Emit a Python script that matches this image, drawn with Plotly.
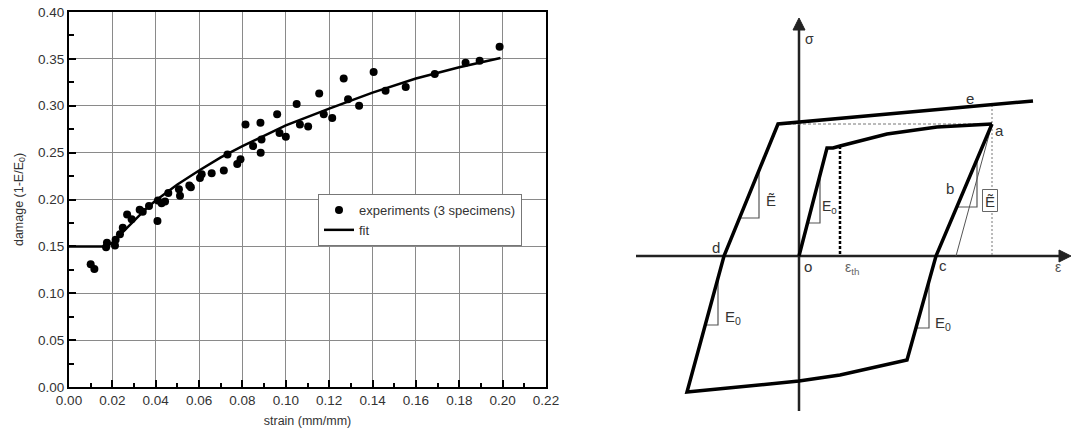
import plotly.graph_objects as go

# ---------------- left panel: damage vs strain ----------------
exp_strain = [0.0100, 0.0117, 0.0171, 0.0175, 0.0212, 0.0215, 0.0235, 0.0248,
              0.0268, 0.0289, 0.0326, 0.0340, 0.0369, 0.0408, 0.0410, 0.0427,
              0.0443, 0.0458, 0.0507, 0.0512, 0.0555, 0.0562, 0.0604, 0.0612,
              0.0658, 0.0714, 0.0731, 0.0776, 0.0791, 0.0814, 0.0849, 0.0884,
              0.0888, 0.0883, 0.0960, 0.0971, 0.1000, 0.1050, 0.1065, 0.1103,
              0.1154, 0.1175, 0.1214, 0.1267, 0.1287, 0.1338, 0.1405, 0.1460,
              0.1553, 0.1687, 0.1829, 0.1894, 0.1986]
exp_damage = [0.131, 0.126, 0.149, 0.154, 0.151, 0.157, 0.163, 0.170,
              0.184, 0.179, 0.189, 0.187, 0.193, 0.177, 0.199, 0.196,
              0.198, 0.207, 0.211, 0.204, 0.215, 0.213, 0.223, 0.227,
              0.228, 0.231, 0.248, 0.238, 0.243, 0.280, 0.257, 0.250,
              0.264, 0.282, 0.291, 0.271, 0.267, 0.302, 0.280, 0.278,
              0.313, 0.291, 0.287, 0.329, 0.307, 0.300, 0.336, 0.316,
              0.320, 0.334, 0.346, 0.348, 0.363]

fit_strain = [0.000, 0.0175, 0.020, 0.025, 0.030, 0.035, 0.040, 0.050, 0.060,
              0.070, 0.080, 0.090, 0.100, 0.120, 0.140, 0.160, 0.180, 0.199]
fit_damage = [0.150, 0.150, 0.154, 0.166, 0.178, 0.189, 0.199, 0.216, 0.231,
              0.245, 0.257, 0.268, 0.279, 0.297, 0.314, 0.329, 0.341, 0.351]

x_ticks = [0.00, 0.02, 0.04, 0.06, 0.08, 0.10, 0.12, 0.14, 0.16, 0.18, 0.20, 0.22]
y_ticks = [0.00, 0.05, 0.10, 0.15, 0.20, 0.25, 0.30, 0.35, 0.40]

# ---------------- right panel: cyclic stress-strain schematic ----------------
# outer hysteresis loop: upper hardening line -> left branch -> bottom -> right branch -> a
loop_x = [234, -21, -75, -112, 0, 41, 108, 129, 137, 193]
loop_y = [155, 132, 0, -136, -125, -119, -104, -29, 0, 132]
# first loading curve from o to a
load_x = [0, 21, 28, 34, 41, 88, 138, 193]
load_y = [0, 83, 108, 108, 110, 122, 129, 132]
# threshold strain marker
eth_x = [41, 41]
eth_y = [110, 0]
# construction lines
hline_x = [-21, 193]
hline_y = [132, 132]
vline_x = [193, 193]
vline_y = [151, 0]
secant_x = [193, 157]
secant_y = [132, 0]
# slope triangles
tri_left_x = [-59, -40, -40]
tri_left_y = [38, 38, 86]
tri_load_x = [8.5, 21, 21]
tri_load_y = [33, 33, 80]
tri_b_x = [158, 178, 178]
tri_b_y = [49, 49, 97]
tri_d_x = [-93, -81, -81]
tri_d_y = [-69, -69, -22]
tri_c_x = [117, 130, 130]
tri_c_y = [-72, -72, -26]
# coordinate axes
sig_axis_x = [0, 0]
sig_axis_y = [-155, 228]
eps_axis_x = [-163, 262]
eps_axis_y = [0, 0]
sig_head_x = [-6, 6, 0]
sig_head_y = [226, 226, 238]
eps_head_x = [260, 260, 272]
eps_head_y = [6, -6, 0]

FONT = "Liberation Sans, Arial, sans-serif"
TXT = "#333333"

fig = go.Figure()

fig.add_trace(go.Scatter(
    x=exp_strain, y=exp_damage, mode="markers",
    marker=dict(color="black", size=8),
    name="experiments (3 specimens)", xaxis="x", yaxis="y"))
fig.add_trace(go.Scatter(
    x=fit_strain, y=fit_damage, mode="lines",
    line=dict(color="black", width=2.5),
    name="fit", xaxis="x", yaxis="y"))


def seg(xs, ys, width, color="black", dash="solid", fill=None):
    fig.add_trace(go.Scatter(
        x=xs, y=ys, mode="lines", xaxis="x2", yaxis="y2", showlegend=False,
        hoverinfo="skip", line=dict(color=color, width=width, dash=dash),
        fill=fill, fillcolor=color if fill else None))


seg(sig_axis_x, sig_axis_y, 2.5, "#222222")
seg(eps_axis_x, eps_axis_y, 2.5, "#222222")
seg(sig_head_x + sig_head_x[:1], sig_head_y + sig_head_y[:1], 1, "#222222", fill="toself")
seg(eps_head_x + eps_head_x[:1], eps_head_y + eps_head_y[:1], 1, "#222222", fill="toself")

seg(hline_x, hline_y, 1, "#777777", dash="3px,2px")
seg(vline_x, vline_y, 1, "#777777", dash="2px,2px")
seg(secant_x, secant_y, 1, "#555555")
for tx, ty in [(tri_left_x, tri_left_y), (tri_load_x, tri_load_y), (tri_b_x, tri_b_y),
               (tri_d_x, tri_d_y), (tri_c_x, tri_c_y)]:
    seg(tx, ty, 1.2, "#555555")

seg(eth_x, eth_y, 2.5, "black", dash="3px,2px")
seg(loop_x, loop_y, 3.5)
seg(load_x, load_y, 3.5)

# boxed modulus label on the right branch
fig.add_shape(type="rect", xref="x2", yref="y2", x0=183.5, x1=198.5, y0=44.5, y1=66.5,
              line=dict(color="#666666", width=1), fillcolor="white", layer="above")

labels = [
    ("σ", 10, 217, 14, TXT),
    ("ε", 259, -11, 14, "#555555"),
    ("e", 171, 158, 15, TXT),
    ("a", 200, 126, 15, TXT),
    ("b", 151, 68, 15, TXT),
    ("d", -83, 9, 15, TXT),
    ("o", 9, -10, 15, TXT),
    ("c", 144, -9, 15, TXT),
    ("ε<sub>th</sub>", 53, -12, 14, "#666666"),
    ("Ẽ", -28, 56, 15, TXT),
    ("Ẽ", 191, 55, 15, TXT),
    ("E<sub>0</sub>", 30, 49, 14, TXT),
    ("E<sub>0</sub>", -66, -61, 15, TXT),
    ("E<sub>0</sub>", 144, -67, 15, TXT),
]
for text, lx, ly, size, col in labels:
    fig.add_annotation(x=lx, y=ly, xref="x2", yref="y2", text=text, showarrow=False,
                       xanchor="center", yanchor="middle",
                       font=dict(family=FONT, size=size, color=col))

W, H = 1071, 432
axis_common = dict(
    showline=True, linecolor="black", linewidth=2, mirror=True,
    showgrid=True, gridcolor="#8a8a8a", gridwidth=1, zeroline=False,
    ticks="inside", ticklen=7, tickwidth=2, tickcolor="black",
    tickfont=dict(family=FONT, size=13.5, color=TXT), automargin=False,
)

fig.update_layout(
    width=W, height=H, margin=dict(l=0, r=0, t=0, b=0),
    paper_bgcolor="white", plot_bgcolor="white",
    font=dict(family=FONT, color=TXT),
    xaxis=dict(domain=[69 / W, 546 / W], range=[0, 0.22], tickvals=x_ticks,
               ticktext=[f"{v:.2f}" for v in x_ticks], anchor="y",
               minor=dict(dtick=0.01, tick0=0, ticks="inside", ticklen=4, tickwidth=1.5,
                          tickcolor="black", showgrid=False),
               title=dict(text="strain (mm/mm)", standoff=9,
                          font=dict(family=FONT, size=12.5, color=TXT)),
               **axis_common),
    yaxis=dict(domain=[1 - 387 / H, 1 - 12 / H], range=[0, 0.40], tickvals=y_ticks,
               ticktext=[f"{v:.2f}" for v in y_ticks], anchor="x",
               minor=dict(dtick=0.025, tick0=0, ticks="inside", ticklen=5, tickwidth=1.5,
                          tickcolor="black", showgrid=False),
               title=dict(text="damage (1-E/E<sub>0</sub>)", standoff=12,
                          font=dict(family=FONT, size=12.5, color=TXT)),
               **axis_common),
    xaxis2=dict(domain=[620 / W, 1], range=[620 - 799, W - 799], visible=False,
                anchor="y2"),
    yaxis2=dict(domain=[0, 1], range=[256 - H, 256], visible=False, anchor="x2"),
    legend=dict(x=318 / W, y=1 - 194 / H, xanchor="left", yanchor="top",
                bgcolor="white", bordercolor="#777777", borderwidth=1,
                font=dict(family=FONT, size=13, color=TXT), tracegroupgap=0),
    showlegend=True,
)

fig.write_html("out.html")
